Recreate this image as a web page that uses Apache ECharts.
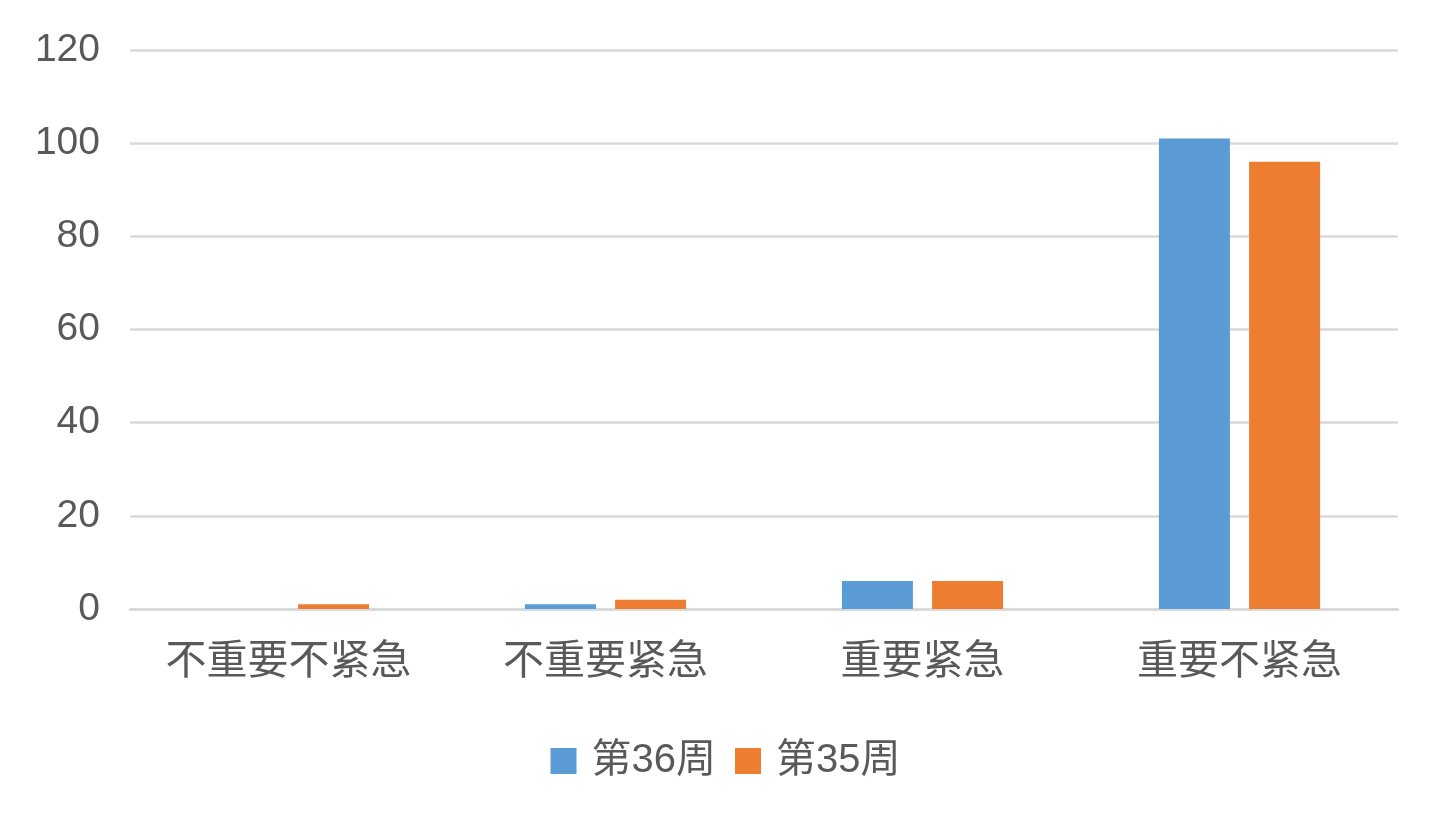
<!DOCTYPE html>
<html>
<head>
<meta charset="utf-8">
<script src="https://cdn.jsdelivr.net/npm/echarts@6/dist/echarts.min.js"></script>
<style>
html,body{margin:0;padding:0;background:#fff;}
#chart{width:1451px;height:824px;}
</style>
</head>
<body>
<div id="chart"></div>
<script>
const categories = ['不重要不紧急', '不重要紧急', '重要紧急', '重要不紧急'];
const seriesNames = ['第36周', '第35周'];
const week36 = [0, 1, 6, 101];
const week35 = [1, 2, 6, 96];
const yTicks = { min: 0, max: 120, interval: 20 };

const FONT = '"Liberation Sans", "Noto Sans CJK SC", sans-serif';
const TEXT = '#595959';
const GRID = '#d9d9d9';

const chart = echarts.init(document.getElementById('chart'));
chart.setOption({
  animation: false,
  backgroundColor: '#fff',
  textStyle: { fontFamily: FONT },
  grid: { left: 130, right: 53, top: 50, bottom: 215, containLabel: false },
  legend: {
    data: seriesNames,
    top: 736,
    left: 'center',
    icon: 'rect',
    itemWidth: 26,
    itemHeight: 26,
    itemGap: 19,
    textStyle: { fontSize: 40, color: TEXT, fontFamily: FONT, padding: [0, 0, 0, 10] }
  },
  xAxis: {
    type: 'category',
    data: categories,
    axisLine: { lineStyle: { color: GRID, width: 2.5 } },
    axisTick: { show: false },
    axisLabel: { interval: 0, hideOverlap: false, fontSize: 41, color: TEXT, margin: 33, fontFamily: FONT }
  },
  yAxis: {
    type: 'value',
    min: yTicks.min,
    max: yTicks.max,
    interval: yTicks.interval,
    axisLine: { show: false },
    axisTick: { show: false },
    splitLine: { lineStyle: { color: GRID, width: 2.5 } },
    axisLabel: { fontSize: 39, color: TEXT, margin: 30, fontFamily: FONT }
  },
  series: [
    { name: seriesNames[0], type: 'bar', data: week36, barWidth: 71, barGap: '27%', itemStyle: { color: '#5B9BD5' } },
    { name: seriesNames[1], type: 'bar', data: week35, barWidth: 71, barGap: '27%', itemStyle: { color: '#ED7D31' } }
  ]
});
</script>
</body>
</html>
